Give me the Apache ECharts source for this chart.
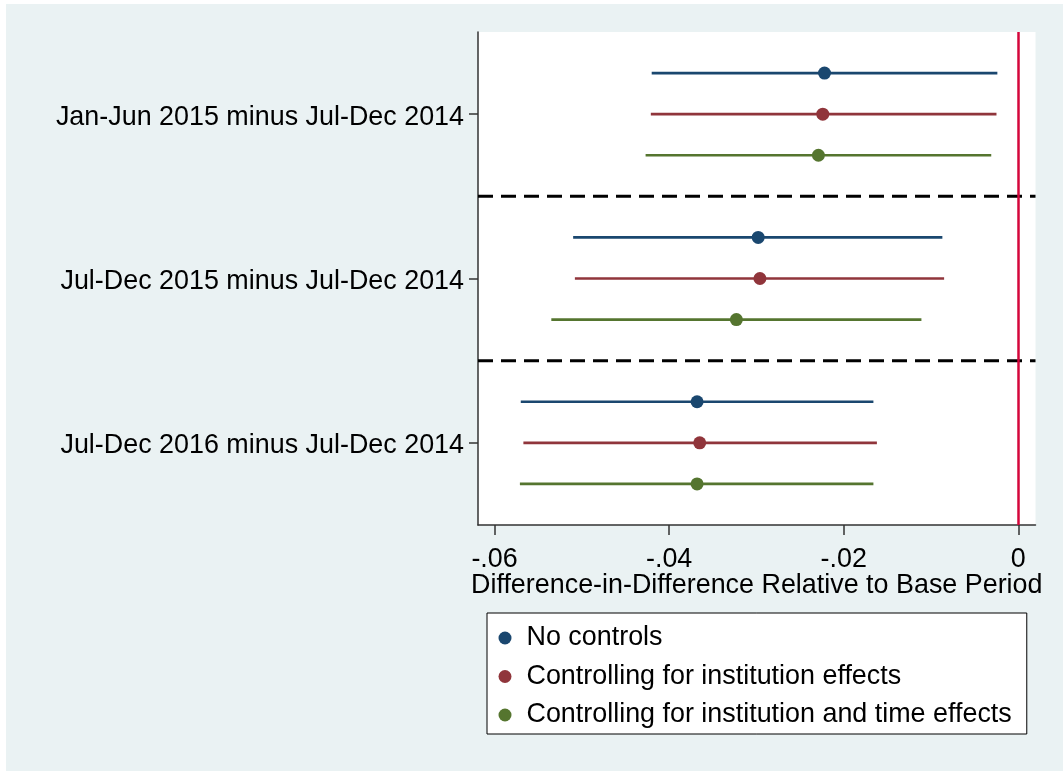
<!DOCTYPE html>
<html>
<head>
<meta charset="utf-8">
<script src="https://cdn.jsdelivr.net/npm/echarts@6/dist/echarts.min.js"></script>
<style>
  html, body { margin: 0; padding: 0; background: #fff; }
  #chart { position: absolute; left: 6px; top: 4px; width: 1057px; height: 767px; }
</style>
</head>
<body>
<div id="chart"></div>
<script>
// periods compared (y axis, top to bottom)
const categories = [
  'Jan-Jun 2015 minus Jul-Dec 2014',
  'Jul-Dec 2015 minus Jul-Dec 2014',
  'Jul-Dec 2016 minus Jul-Dec 2014'
];
const seriesNames = [
  'No controls',
  'Controlling for institution effects',
  'Controlling for institution and time effects'
];

// point estimates and 95% CI bounds
const noCtrlEst = [-0.0222, -0.0298, -0.0368];
const noCtrlLo  = [-0.0420, -0.0510, -0.0570];
const noCtrlHi  = [-0.0024, -0.0087, -0.0166];

const instEst = [-0.0224, -0.0296, -0.0365];
const instLo  = [-0.0421, -0.0508, -0.0567];
const instHi  = [-0.0025, -0.0085, -0.0162];

const timeEst = [-0.0229, -0.0323, -0.0368];
const timeLo  = [-0.0427, -0.0535, -0.0571];
const timeHi  = [-0.0031, -0.0111, -0.0166];

const tickValues = [-0.06, -0.04, -0.02, 0];
const tickLabels = ['-.06', '-.04', '-.02', '0'];

const colors = ['#1a476f', '#90353b', '#55752f'];
const FONT = 'Liberation Sans, Arial, sans-serif';
const FS = 26.9;

const chart = echarts.init(document.getElementById('chart'));

// each series sits a quarter band above / on / below the category centre
const offsets = [-0.25, 0, 0.25];

function ciRows(lo, est, hi) {
  return categories.map((c, i) => [lo[i], est[i], hi[i], i]);
}

function renderCI(params, api) {
  const i = api.value(3);
  const band = api.size([0, 1])[1];
  const dy = offsets[params.seriesIndex] * band;
  const a = api.coord([api.value(0), i]);
  const m = api.coord([api.value(1), i]);
  const b = api.coord([api.value(2), i]);
  const color = api.visual('color');
  return {
    type: 'group',
    children: [
      {
        type: 'line',
        shape: { x1: a[0], y1: a[1] + dy, x2: b[0], y2: b[1] + dy },
        style: { stroke: color, lineWidth: 2.7 }
      },
      {
        type: 'circle',
        shape: { cx: m[0], cy: m[1] + dy, r: 6.5 },
        style: { fill: color }
      }
    ]
  };
}

// dashed separators between the period groups
function renderSep(params, api) {
  const i = api.value(0);
  const band = api.size([0, 1])[1];
  const y = api.coord([0, i])[1] + band / 2;
  const cs = params.coordSys;
  return {
    type: 'line',
    shape: { x1: cs.x, y1: y, x2: cs.x + cs.width, y2: y },
    style: { stroke: '#000', lineWidth: 3, lineDash: [15, 8] }
  };
}

const ciData = [
  ciRows(noCtrlLo, noCtrlEst, noCtrlHi),
  ciRows(instLo, instEst, instHi),
  ciRows(timeLo, timeEst, timeHi)
];

const series = seriesNames.map((name, k) => ({
  name: name,
  type: 'custom',
  renderItem: renderCI,
  itemStyle: { color: colors[k] },
  encode: { x: [0, 1, 2], y: 3 },
  data: ciData[k],
  z: 3
}));

series.push({
  name: 'sep',
  type: 'custom',
  renderItem: renderSep,
  encode: { y: 0 },
  data: categories.slice(0, -1).map((c, i) => [i]),
  silent: true,
  z: 2,
  markLine: {
    silent: true,
    symbol: 'none',
    label: { show: false },
    lineStyle: { color: '#d4063b', width: 2.5, type: 'solid' },
    data: [{ xAxis: 0 }],
    z: 5
  }
});

const option = {
  backgroundColor: '#eaf2f3',
  animation: false,
  textStyle: { fontFamily: FONT },
  grid: {
    left: 472,
    right: 27.5,
    top: 28,
    bottom: 246,
    show: true,
    backgroundColor: '#fff',
    borderWidth: 0
  },
  xAxis: {
    type: 'value',
    min: -0.0619,
    max: 0.00197,
    name: 'Difference-in-Difference Relative to Base Period',
    nameLocation: 'middle',
    nameGap: 47,
    nameMoveOverlap: false,
    nameTextStyle: { fontSize: FS, color: '#000', fontFamily: FONT },
    axisLine: { show: true, onZero: false, lineStyle: { color: '#333', width: 1.5 } },
    axisTick: { show: true, length: 10, customValues: tickValues, lineStyle: { color: '#333', width: 1.5 } },
    axisLabel: {
      customValues: tickValues,
      margin: 21,
      fontSize: FS,
      color: '#000',
      fontFamily: FONT,
      formatter: v => tickLabels[tickValues.findIndex(t => Math.abs(t - v) < 1e-9)]
    },
    splitLine: { show: false }
  },
  yAxis: {
    type: 'category',
    inverse: true,
    data: categories,
    axisLine: { show: true, onZero: false, lineStyle: { color: '#333', width: 1.5 } },
    axisTick: { show: true, alignWithLabel: true, length: 9, lineStyle: { color: '#333', width: 1.5 } },
    axisLabel: { margin: 14, fontSize: FS, color: '#000', fontFamily: FONT, verticalAlign: 'top', lineHeight: 6 },
    splitLine: { show: false }
  },
  legend: {
    data: seriesNames.map(n => ({ name: n, icon: 'circle' })),
    orient: 'vertical',
    left: 481,
    top: 609,
    backgroundColor: '#fff',
    borderColor: '#000',
    borderWidth: 1,
    padding: [11, 15, 5, 11.5],
    itemWidth: 13,
    itemHeight: 13,
    itemGap: 10.5,
    selectedMode: false,
    textStyle: { fontSize: FS, lineHeight: 28, color: '#000', fontFamily: FONT, padding: [0, 0, 0, 10] }
  },
  series: series
};

chart.setOption(option);
</script>
</body>
</html>
